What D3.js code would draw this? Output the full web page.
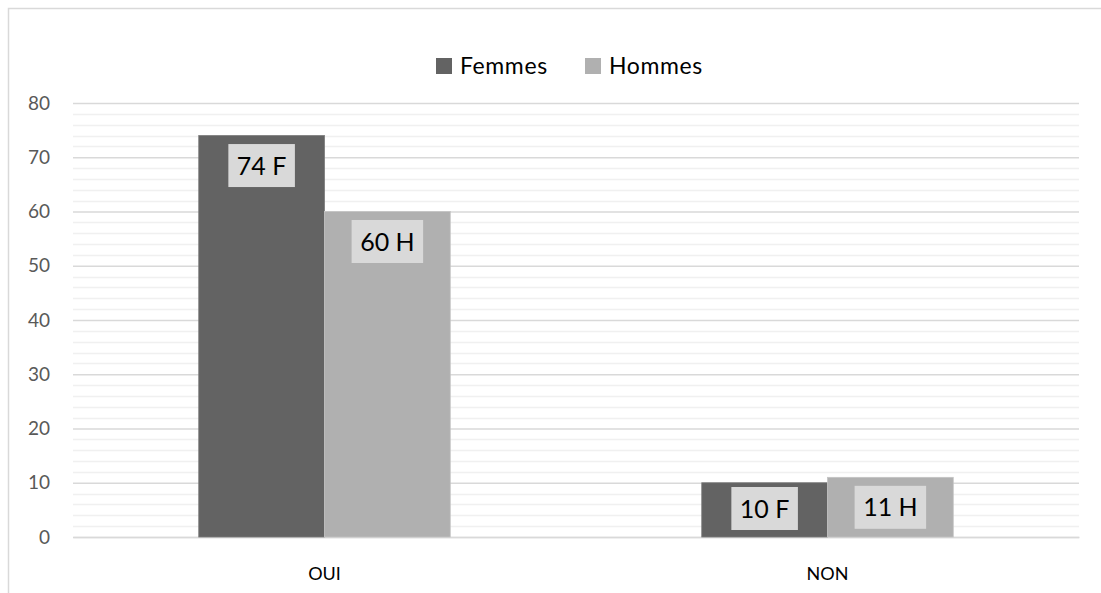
<!DOCTYPE html>
<html><head><meta charset="utf-8">
<script src="https://cdn.jsdelivr.net/npm/d3@7"></script>
<style>body{margin:0;background:#fff;}svg{display:block;font-family:Lato,"Open Sans",sans-serif;}</style>
</head><body>
<svg id="c" width="1101" height="593"></svg>
<script>
const categories = ["OUI", "NON"];
const seriesNames = ["Femmes", "Hommes"];
const femmes = [74, 10];
const hommes = [60, 11];
const labelSuffix = ["F", "H"];
const yTicks = [0, 10, 20, 30, 40, 50, 60, 70, 80];

const colors = ["#636363", "#b0b0b0"];
const svg = d3.select("#c");
const W = 1101, H = 593;
const m = {left: 73, right: 1079, top: 103, bottom: 537};

// chart border
svg.append("rect").attr("x", 8.5).attr("y", 8.5).attr("width", W + 10).attr("height", H + 10)
  .attr("fill", "none").attr("stroke", "#d9d9d9").attr("stroke-width", 1.5);

const x = d3.scaleBand().domain(categories).range([m.left, m.right]).paddingInner(0.0).paddingOuter(0);
const xs = d3.scaleBand().domain(seriesNames).range([0, x.bandwidth()]).paddingInner(0).paddingOuter(1);
const y = d3.scaleLinear().domain([0, 80]).range([m.bottom, m.top]);

// minor gridlines
const minor = d3.range(0, 81, 2).filter(v => v % 10 !== 0);
svg.append("g").selectAll("line").data(minor).join("line")
  .attr("x1", m.left).attr("x2", m.right)
  .attr("y1", d => Math.round(y(d)) + 0.5).attr("y2", d => Math.round(y(d)) + 0.5)
  .attr("stroke", "#f0f0f0").attr("stroke-width", 1.5);

// y axis with major gridlines
const yAxis = d3.axisLeft(y).tickValues(yTicks).tickSize(-(m.right - m.left)).tickPadding(23);
const gy = svg.append("g").attr("transform", `translate(${m.left},0)`).call(yAxis);
gy.select(".domain").remove();
gy.selectAll(".tick line").attr("stroke", "#d9d9d9").attr("stroke-width", 1.5);
gy.selectAll(".tick text").attr("fill", "#595959").attr("font-size", 19)
  .attr("font-family", "Lato, sans-serif");

// x axis
const xAxis = d3.axisBottom(x).tickSize(0).tickPadding(30);
const gx = svg.append("g").attr("transform", `translate(0,${m.bottom})`).call(xAxis);
gx.select(".domain").attr("stroke", "#d9d9d9").attr("stroke-width", 1.5);
gx.selectAll(".tick text").attr("fill", "#000").attr("font-size", 18)
  .attr("font-family", "Lato, sans-serif");

const data = [];
categories.forEach((c, i) => {
  data.push({cat: c, s: seriesNames[0], v: femmes[i], k: 0});
  data.push({cat: c, s: seriesNames[1], v: hommes[i], k: 1});
});

svg.append("g").selectAll("rect").data(data).join("rect")
  .attr("x", d => x(d.cat) + xs(d.s))
  .attr("y", d => y(d.v))
  .attr("width", xs.bandwidth())
  .attr("height", d => y(0) - y(d.v))
  .attr("fill", d => colors[d.k])
  .attr("stroke", d => d.k === 0 ? "#7a7a7a" : "#c4c4c4").attr("stroke-width", 0.8);

// data labels
const boxH = 43;
const lg = svg.append("g").selectAll("g").data(data).join("g");
lg.each(function(d) {
  const g = d3.select(this);
  const cx = x(d.cat) + xs(d.s) + xs.bandwidth() / 2;
  const top = Math.min(y(d.v) + 8.5, y(0) - boxH - 7);
  const t = g.append("text").text(`${d.v} ${labelSuffix[d.k]}`)
    .attr("x", cx).attr("y", top + boxH / 2).attr("dy", "0.36em")
    .attr("text-anchor", "middle").attr("font-size", 25).attr("fill", "#000")
    .attr("font-family", "Lato, sans-serif");
  const bb = t.node().getBBox();
  const bw = bb.width + 17;
  g.insert("rect", "text").attr("x", cx - bw / 2).attr("y", top).attr("width", bw).attr("height", boxH)
    .attr("fill", "#d9d9d9");
});

// legend
const legendItems = [{name: seriesNames[0], x: 436}, {name: seriesNames[1], x: 585}];
const lgd = svg.append("g").selectAll("g").data(legendItems).join("g");
lgd.append("rect").attr("x", d => d.x).attr("y", 58).attr("width", 16).attr("height", 16)
  .attr("fill", (d, i) => colors[i]);
lgd.append("text").attr("x", d => d.x + 24).attr("y", 66).attr("dy", "0.36em")
  .attr("font-size", 23).attr("letter-spacing", 0.6).attr("fill", "#000").attr("font-family", "Lato, sans-serif")
  .text(d => d.name);
</script>
</body></html>
